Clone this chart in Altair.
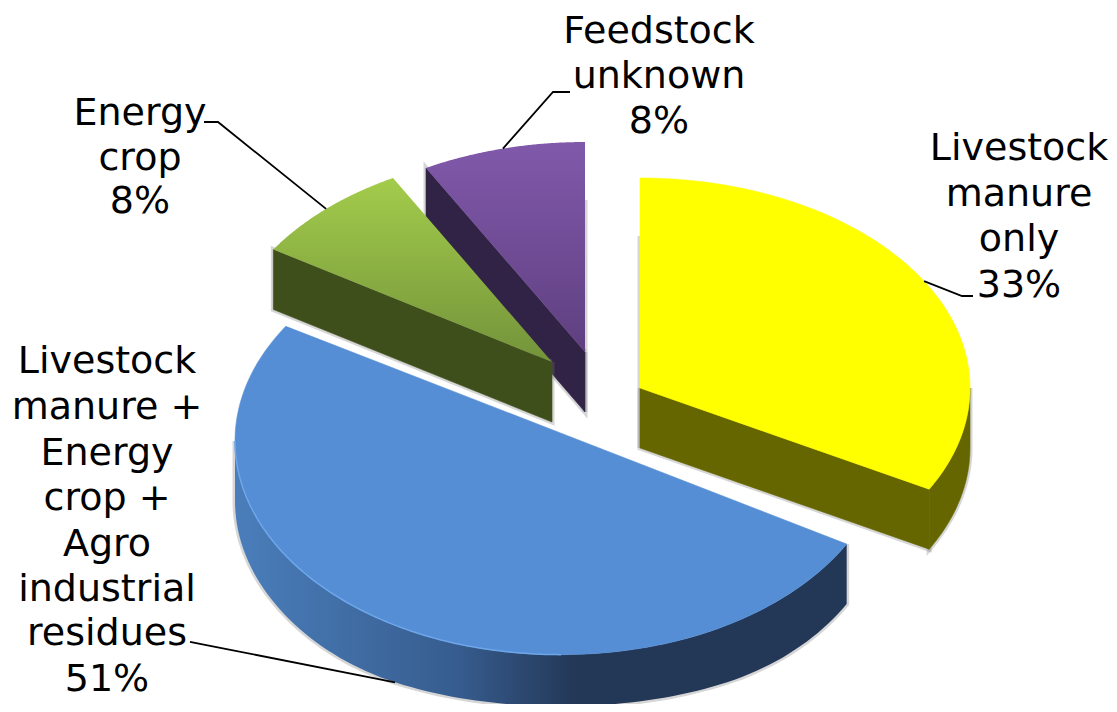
import altair as alt
import numpy as np
import pandas as pd

# ---- data ----
categories = ["Livestock manure only",
              "Livestock manure + Energy crop + Agro industrial residues",
              "Energy crop", "Feedstock unknown"]
shares = [33, 51, 8, 8]
label_lines = [["Livestock", "manure", "only", "33%"],
               ["Livestock", "manure +", "Energy", "crop +", "Agro", "industrial", "residues", "51%"],
               ["Energy", "crop", "8%"],
               ["Feedstock", "unknown", "8%"]]

# ---- layout of the tilted, exploded pie (window pixels) ----
W, H, M = 1117, 712, 8
D = 60                            # slice thickness
axes_ab = [(330, 210), (326, 214), (330, 210), (330, 210)]
centres = [(640, 388), (561, 441), (552, 362), (585, 352)]
label_x = [1019, 107, 140, 659]
label_y = [[160, 206, 251, 297],
           [373, 419, 465, 510, 556, 601, 645, 696],
           [125, 170, 213],
           [43, 88, 133]]
leader_mid = [[(962, 296), (973, 296)], [(205, 645), (190, 642)],
              [(218, 122), (204, 122)], [(553, 92), (570, 92)]]
FONT, FS = "DejaVu Sans", 38

edges = 2 * np.pi * np.concatenate([[0], np.cumsum(shares)]) / sum(shares)
ends = list(zip(edges[:-1], edges[1:]))


def rim(k, t0, t1, dy=0):
    t = np.linspace(t0, t1, 100)
    c, (a, b) = centres[k], axes_ab[k]
    return list(zip(c[0] + a * np.sin(t), c[1] - b * np.cos(t) + dy))


def top_face(k, apex=None):
    c = apex or centres[k]
    return [c] + rim(k, *ends[k]) + [c]


def cut_wall(k, theta):
    c = centres[k]
    v = rim(k, theta, theta)[0]
    return [c, v, (v[0], v[1] + D), (c[0], c[1] + D), c]


def outer_wall(k, t0, t1):
    a = rim(k, t0, t1)
    b = rim(k, t1, t0, D)
    return a + b + [a[0]]


# the lowest strip of the pie is eased in so that the page fits the window exactly
x_scale = alt.Scale(domain=[M, W - M], range=[0, W - 2 * M], nice=False, zero=False)
y_scale = alt.Scale(domain=[M, 640, 660, 680, 700, H],
                    range=[0, 632, 651.5, 670, 686.5, H - 2 * M], nice=False, zero=False)
X = alt.X("x:Q", scale=x_scale, axis=None)
Y = alt.Y("y:Q", scale=y_scale, axis=None)


def poly(points, **mark):
    df = pd.DataFrame(points, columns=["x", "y"])
    df["i"] = range(len(df))
    return alt.Chart(df).mark_line(interpolate="linear", clip=False, **mark).encode(
        x=X, y=Y, order=alt.Order("i:Q"))


def fill(points, colour):
    stroke = colour if isinstance(colour, str) else "transparent"
    return poly(points, fill=colour, stroke=stroke, strokeWidth=0.6)


def grad(stops, x2=0, y2=1):
    return alt.Gradient(gradient="linear", x1=0, y1=0, x2=x2, y2=y2,
                        stops=[alt.GradientStop(offset=o, color=c) for o, c in stops])


def shadow(points):
    return poly(points, stroke="#777777", strokeWidth=5, strokeOpacity=0.3)


Y_, BL, GR, PU = 0, 1, 2, 3
rad = np.pi / 2
y_wall = outer_wall(Y_, ends[Y_][1], rad)
b_wall = outer_wall(BL, ends[BL][0], 3 * rad)
c_pu, c_ye = centres[PU], centres[Y_]
b0, b1 = rim(BL, *ends[BL])[0], rim(BL, *ends[BL])[-1]
b_apex = ((b0[0] + b1[0]) / 2, (b0[1] + b1[1]) / 2)   # the blue slice's cut is a straight line

layers = [
    # Feedstock unknown
    shadow(cut_wall(PU, ends[PU][0])),
    shadow([(c_pu[0], c_pu[1] - 152), (c_pu[0], c_pu[1] + D)]),
    fill(cut_wall(PU, ends[PU][0]), "#312345"),
    fill(top_face(PU), grad([(0, "#8159ab"), (1, "#5f3f80")])),
    # Energy crop
    shadow(cut_wall(GR, ends[GR][0])),
    fill(cut_wall(GR, ends[GR][0]), "#3f4f1c"),
    fill(top_face(GR), grad([(0, "#a3cc4b"), (1, "#73933a")])),
    # mixed feedstock
    shadow(b_wall),
    fill(b_wall, grad([(0, "#4a7ebb"), (0.36, "#375d8f"), (0.56, "#233757"), (1, "#233757")], x2=1, y2=0)),
    fill(top_face(BL, b_apex), "#558ed5"),
    poly(rim(BL, 2 * rad, 3 * rad), stroke="#6ea6ea", strokeWidth=1.5),
    # manure only
    shadow(cut_wall(Y_, ends[Y_][1])),
    shadow(y_wall),
    shadow([(c_ye[0], c_ye[1] - 152), (c_ye[0], c_ye[1] + D)]),
    fill(cut_wall(Y_, ends[Y_][1]), "#666600"),
    fill(y_wall, "#666600"),
    fill(top_face(Y_), "#ffff00"),
]

# leader lines start on the rim at each slice's mid angle
for k, mid in enumerate(leader_mid):
    t = (ends[k][0] + ends[k][1]) / 2
    start = rim(k, t, t, D if k == BL else 0)[0]
    layers.append(poly([start] + mid, stroke="#000000", strokeWidth=1.8))

rows = [{"x": label_x[k], "y": yy, "t": s}
        for k, lines in enumerate(label_lines)
        for yy, s in zip(label_y[k], lines)]
layers.append(alt.Chart(pd.DataFrame(rows)).mark_text(
    font=FONT, fontSize=FS, align="center", baseline="alphabetic", color="#000000", clip=False
).encode(x=X, y=Y, text="t:N"))

chart = alt.layer(*layers).properties(
    width=W - 2 * M, height=H - 2 * M, padding=0, background="#ffffff",
    autosize=alt.AutoSizeParams(type="none")
).configure_view(stroke=None)

chart.save("out.html", embed_options={"renderer": "svg", "actions": False})
